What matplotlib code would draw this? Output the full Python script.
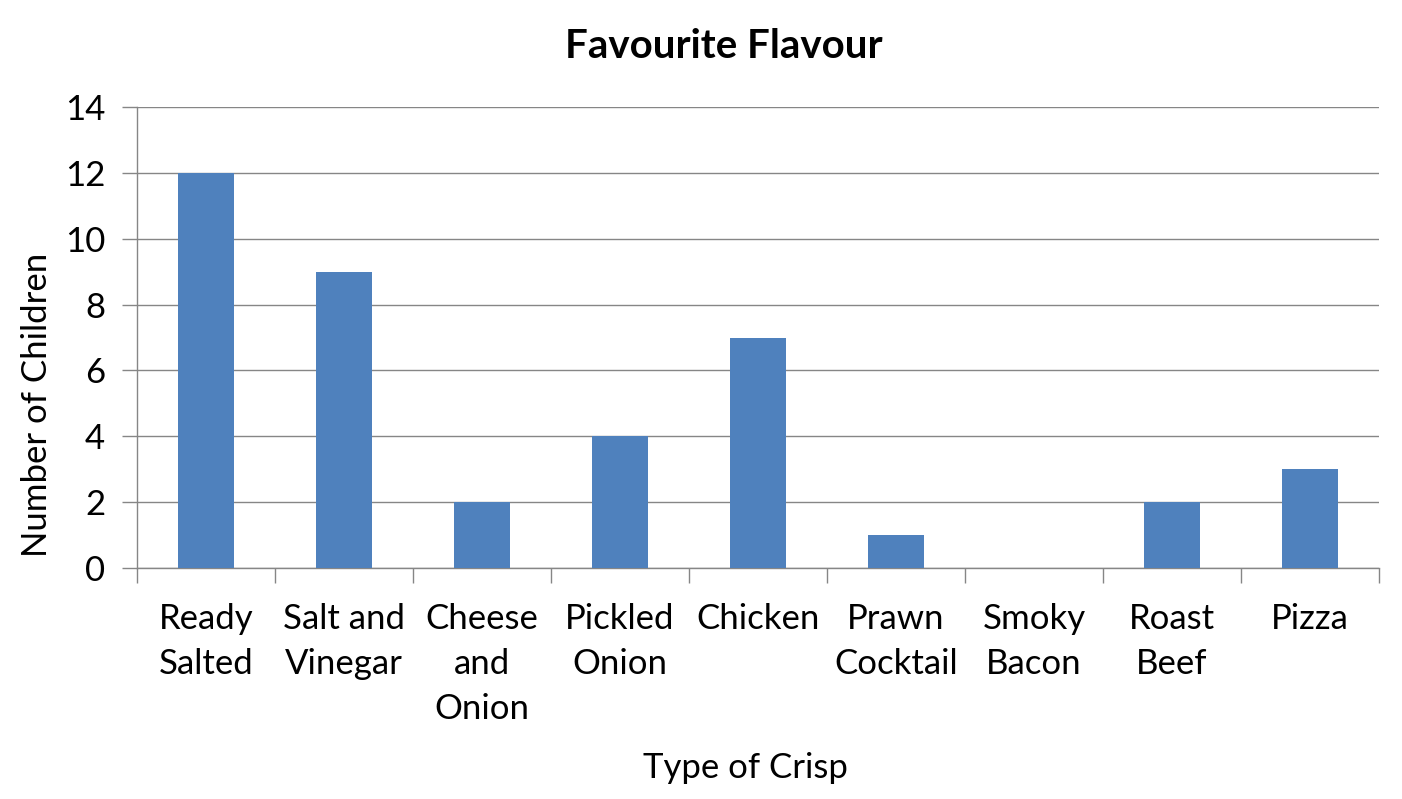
import matplotlib
matplotlib.use("Agg")
import matplotlib.pyplot as plt
import numpy as np

# data
flavours = ["Ready\nSalted", "Salt and\nVinegar", "Cheese\nand\nOnion", "Pickled\nOnion",
            "Chicken", "Prawn\nCocktail", "Smoky\nBacon", "Roast\nBeef", "Pizza"]
children = [12, 9, 2, 4, 7, 1, 0, 2, 3]
yticks = [0, 2, 4, 6, 8, 10, 12, 14]

plt.rcParams['font.family'] = ['Lato', 'DejaVu Sans']

W, H = 1402, 799
fig = plt.figure(figsize=(W / 100, H / 100), dpi=100)
ax = fig.add_axes([137/W, 1 - 568/H, 1242/W, 461/H])

x = np.arange(len(flavours))
ax.bar(x, children, width=0.41, color="#4F81BD", zorder=3)

ax.set_xlim(-0.5, len(flavours) - 0.5)
ax.set_ylim(0, 14)
ax.set_yticks(yticks)
ax.set_xticks(x)
ax.set_xticklabels(flavours, fontsize=25, linespacing=1.5, va="top")
ax.set_xticks(np.arange(-0.5, len(flavours)), minor=True)
ax.tick_params(axis="x", which="major", length=0, pad=25)
ax.tick_params(axis="x", which="minor", length=11, width=1, color="#868686")
ax.tick_params(axis="y", length=11, width=1, color="#868686", labelsize=25, pad=12)

ax.grid(axis="y", color="#868686", linewidth=1, zorder=0)
for s in ["top", "right"]:
    ax.spines[s].set_visible(False)
for s in ["left", "bottom"]:
    ax.spines[s].set_color("#868686")
    ax.spines[s].set_linewidth(1)

# titles placed like the original (not centred on the plot area)
fig.text(724/W, 1 - 47/H, "Favourite Flavour", fontsize=29, fontweight="bold",
         ha="center", va="center")
fig.text(37/W, 1 - 405/H, "Number of Children", fontsize=25, rotation=90,
         ha="center", va="center")
fig.text(745/W, 1 - 768/H, "Type of Crisp", fontsize=25, ha="center", va="center")

plt.savefig("out.png", dpi=100)
